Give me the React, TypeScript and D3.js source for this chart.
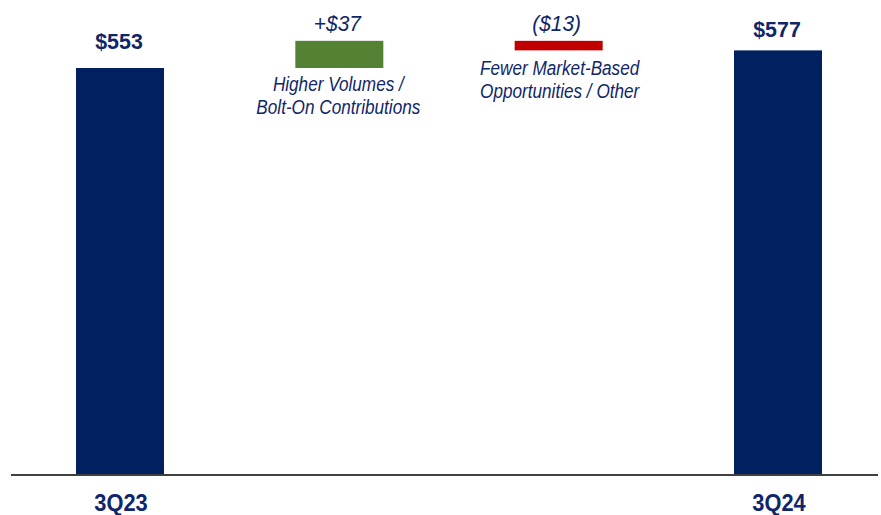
import React from "react";
import * as d3 from "d3";

const categories = ["3Q23", "Volumes", "Market", "3Q24"];
const kinds = ["total", "delta", "delta", "total"];
const values = [553, 37, -13, 577];
const valueLabels = ["$553", "+$37", "($13)", "$577"];
const axisLabels = ["3Q23", "", "", "3Q24"];
const descriptions: string[][] = [
  [],
  ["Higher Volumes /", "Bolt-On Contributions"],
  ["Fewer Market-Based", "Opportunities / Other"],
  [],
];

const W = 881;
const H = 515;
const NAVY = "#002060";
const TEXT = "#10266a";
const GREEN = "#548235";
const RED = "#C00000";
const FONT = "'Liberation Sans', Arial, sans-serif";
// gap between a bar's top and its value label baseline (layout only)
const labelGap = [19.3, 10, 10, 13];

function NarrowText(props: {
  x: number;
  y: number;
  sx: number;
  size: number;
  weight?: string;
  italic?: boolean;
  children: React.ReactNode;
}) {
  return (
    <text
      transform={`translate(${props.x},${props.y}) scale(${props.sx},1)`}
      textAnchor="middle"
      fill={TEXT}
      fontSize={props.size}
      fontWeight={props.weight || "normal"}
      fontStyle={props.italic ? "italic" : "normal"}
    >
      {props.children}
    </text>
  );
}

export default function App() {
  const x = d3.scalePoint<string>().domain(categories).range([120, 778]);
  const y = d3.scaleLinear().domain([0, 553]).range([474, 68]);
  const bw = 88;

  let running = 0;
  const bars = categories.map((c, i) => {
    let y0: number, y1: number;
    if (kinds[i] === "total") {
      y0 = 0;
      y1 = values[i];
      running = values[i];
    } else {
      y0 = running;
      y1 = running + values[i];
      running = y1;
    }
    const color = kinds[i] === "total" ? NAVY : values[i] >= 0 ? GREEN : RED;
    return { c, i, lo: Math.min(y0, y1), hi: Math.max(y0, y1), color };
  });

  return (
    <svg width={W} height={H} style={{ position: "absolute", left: 0, top: 0 }} fontFamily={FONT}>
      <rect width={W} height={H} fill="#fff" />
      {bars.map((b) => {
        const cx = x(b.c)!;
        const top = y(b.hi);
        const bottom = y(b.lo);
        const isTotal = kinds[b.i] === "total";
        return (
          <g key={b.c}>
            <rect x={cx - bw / 2} y={top} width={bw} height={bottom - top} fill={b.color} />
            {isTotal ? (
              <NarrowText x={cx - 1} y={top - labelGap[b.i]} sx={0.93} size={23} weight="bold">
                {valueLabels[b.i]}
              </NarrowText>
            ) : (
              <NarrowText x={cx - 2} y={top - labelGap[b.i]} sx={0.95} size={22} italic>
                {valueLabels[b.i]}
              </NarrowText>
            )}
            {descriptions[b.i].map((line, j) => (
              <NarrowText
                key={j}
                x={cx + (b.i === 2 ? 1 : -1)}
                y={bottom + (b.i === 2 ? 24.3 : 23) + j * 23.3}
                sx={0.88}
                size={19.5}
                italic
              >
                {line}
              </NarrowText>
            ))}
            {axisLabels[b.i] && (
              <NarrowText x={cx + 1} y={510.5} sx={0.95} size={23} weight="bold">
                {axisLabels[b.i]}
              </NarrowText>
            )}
          </g>
        );
      })}
      <line x1={11} x2={878} y1={y(0) + 1} y2={y(0) + 1} stroke="#000" strokeWidth={1.5} />
    </svg>
  );
}
